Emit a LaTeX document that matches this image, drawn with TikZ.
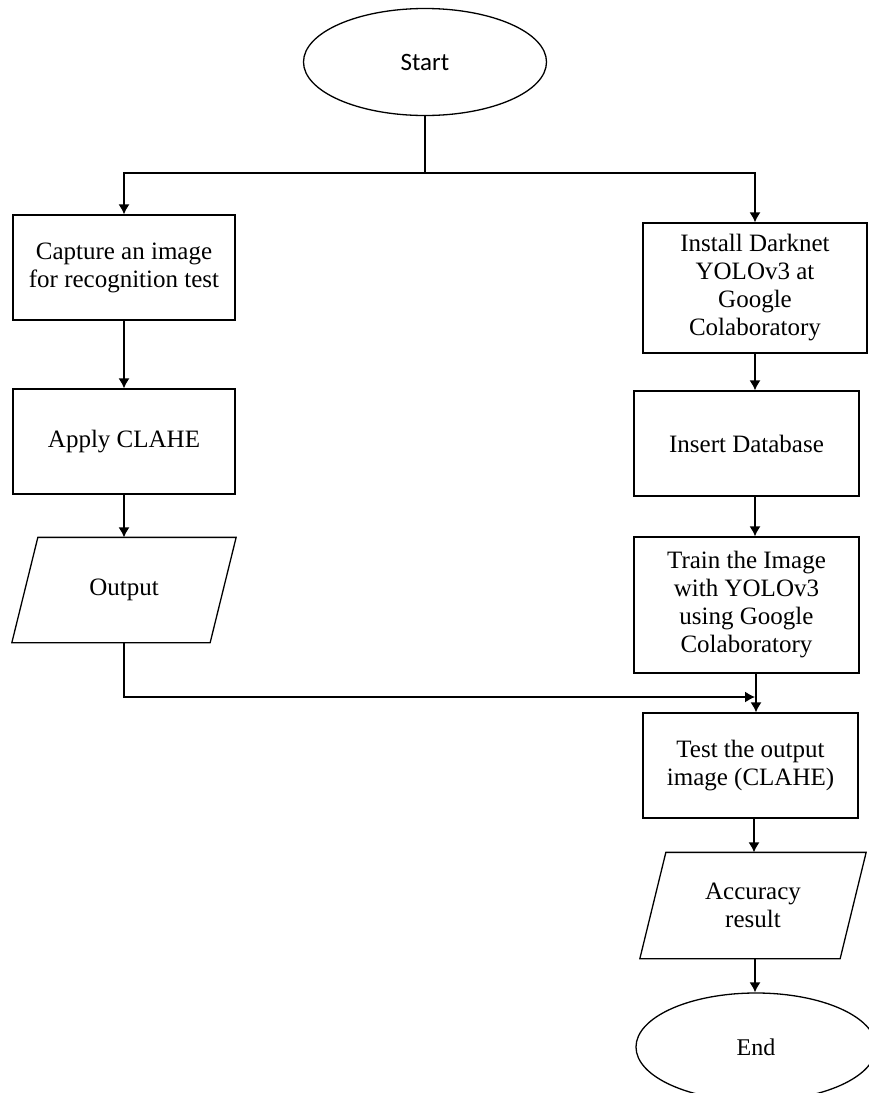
\documentclass[tikz,border=0pt]{standalone}
\usepackage{fontspec}
\setmainfont{Liberation Serif}
\newfontfamily\startfont{Carlito}
\usetikzlibrary{shapes.geometric,arrows.meta,calc}
\begin{document}
\begin{tikzpicture}[x=1pt,y=-1pt,
  line width=1.3pt,
  txt/.style={font=\fontsize{25}{28}\selectfont, align=center},
  box/.style={draw, rectangle, txt, inner sep=0pt},
  term/.style={draw, ellipse, inner sep=0pt},
  iobox/.style={rectangle, txt, inner sep=0pt},
  arr/.style={-{Latex[length=10pt,width=11pt]}}]
\useasboundingbox (0,0) rectangle (869,1093);
\clip (0,0) rectangle (869,1093);

% nodes
\node[term, minimum width=243pt, minimum height=107pt, font=\startfont\fontsize{25}{28}\selectfont] (start) at (425,62) {Start};
\node[box, minimum width=222pt, minimum height=105pt] (capture) at (124,267.5) {Capture an image\\for recognition test};
\node[box, minimum width=222pt, minimum height=105pt] (clahe) at (124,441.5) {Apply CLAHE};
\node[iobox, minimum width=197pt, minimum height=104pt] (out) at (124,590) {Output};
\draw ($(out.north west)+(13,0)$) -- ($(out.north east)+(13,0)$) -- ($(out.south east)+(-13,0)$) -- ($(out.south west)+(-13,0)$) -- cycle;

\node[box, minimum width=224pt, minimum height=130pt] (install) at (755,288) {Install Darknet\\YOLOv3 at\\Google\\Colaboratory};
\node[box, minimum width=225pt, minimum height=105pt] (insert) at (746.5,443.5) {Insert Database};
\node[box, minimum width=225pt, minimum height=136pt] (train) at (746.5,605) {Train the Image\\with YOLOv3\\using Google\\Colaboratory};
\node[box, minimum width=215pt, minimum height=105pt] (test) at (750.5,765.5) {Test the output\\image (CLAHE)};
\node[iobox, minimum width=199pt, minimum height=105pt] (acc) at (753,905.5) {Accuracy\\result};
\draw ($(acc.north west)+(13,0)$) -- ($(acc.north east)+(13,0)$) -- ($(acc.south east)+(-13,0)$) -- ($(acc.south west)+(-13,0)$) -- cycle;
\node[term, minimum width=240pt, minimum height=108pt, font=\fontsize{24}{28}\selectfont] (end) at (756,1047) {End};

% connectors
\coordinate (split) at (425,173);
\draw (start.south) -- (split);
\draw[arr] (split) -| (capture.north);
\draw[arr] (split) -| (install.north);
\draw[arr] (capture.south) -- (clahe.north);
\draw[arr] (clahe.south) -- (out.north);
\draw[arr] (install.south) -- (install.south |- insert.north);
\coordinate (ib) at (755,496);
\draw[arr] (ib) -- (ib |- train.north);
\coordinate (tb) at (756,673);
\draw[arr] (tb) -- (tb |- test.north);
\coordinate (join) at (755,697);
\draw[arr] (out.south) |- (join);
\coordinate (sb) at (754,818);
\draw[arr] (sb) -- (sb |- acc.north);
\coordinate (ab) at (755,958);
\draw[arr] (ab) -- (ab |- end.north);
\end{tikzpicture}
\end{document}
